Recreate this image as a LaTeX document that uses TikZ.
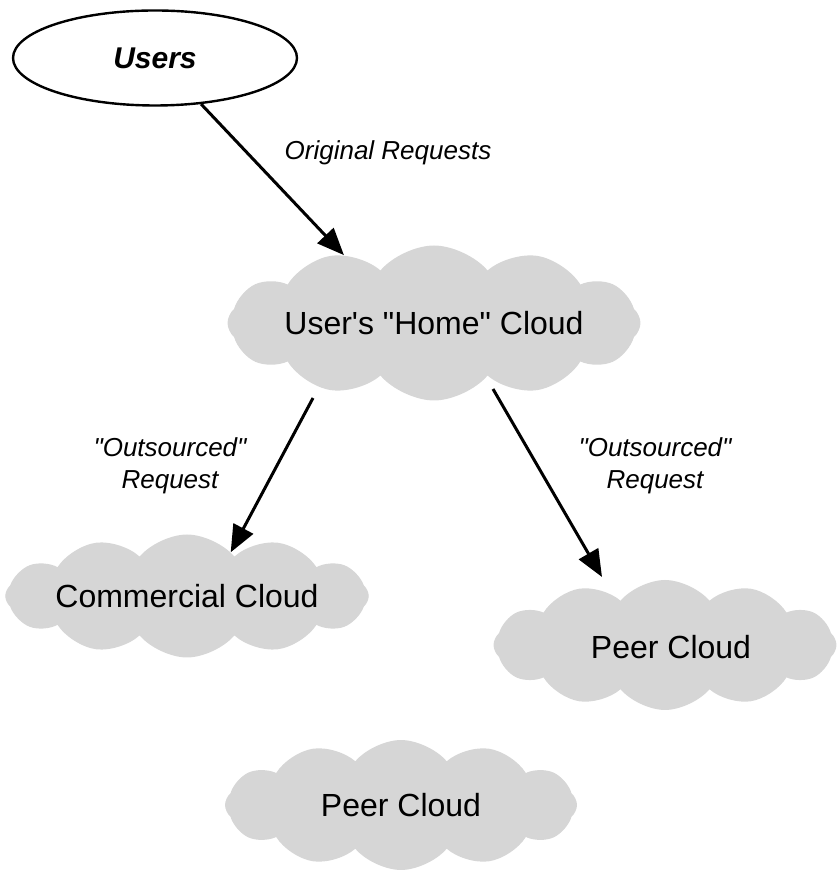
\documentclass[tikz,border=0pt]{standalone}
\usepackage{fontspec}
\setmainfont{Liberation Sans}
% plain family: keeps straight quotes and apostrophes
\newfontfamily\plainsans{Liberation Sans}
\usetikzlibrary{shapes.geometric,shapes.symbols,arrows.meta}
\definecolor{cloudgray}{RGB}{214,214,214}
\tikzset{
  puff/.style={cloud, cloud puffs=12, cloud puff arc=100, cloud ignores aspect,
    fill=cloudgray, draw=none, inner sep=0pt,
    font=\plainsans\fontsize{32}{38}\selectfont},
  usersnode/.style={ellipse, draw=black, line width=2.4pt, fill=white, inner sep=0pt,
    minimum width=284pt, minimum height=95pt,
    font=\plainsans\fontsize{30}{36}\selectfont\bfseries\itshape},
  link/.style={line width=3pt, -{Triangle[length=27pt, width=22pt]}},
  lbl/.style={font=\plainsans\fontsize{26}{32}\selectfont\itshape, align=center, inner sep=0pt}
}
\begin{document}
\begin{tikzpicture}[x=1pt, y=1pt]
  \useasboundingbox (0,0) rectangle (836,873);
  % origin node
  \node[usersnode] (users) at (155,815) {Users};
  % clouds
  \node[puff, minimum width=413pt, minimum height=155pt] (home) at (434,550) {User's "Home" Cloud};
  \node[puff, minimum width=352pt, minimum height=123pt] (comm) at (187,277) {Commercial Cloud};
  \node[puff, minimum width=343pt, minimum height=130pt] (peerA) at (665,228) {};
  \node[font=\plainsans\fontsize{32}{38}\selectfont] (peerAtext) at (671,226) {Peer Cloud};
  \node[puff, minimum width=352pt, minimum height=130pt] (peerB) at (401,68) {Peer Cloud};
  % where the outsourced requests leave the home cloud and reach the peer cloud
  \coordinate (homeoutL) at ([shift={(-121,-75)}]home.center);
  \coordinate (homeoutR) at ([shift={(59,-66)}]home.center);
  \coordinate (peerin) at ([shift={(-63,68)}]peerA.center);
  % requests
  \draw[link] (users.-45) -- (home.143);
  \draw[link] (homeoutL) -- (comm.45);
  \draw[link] (homeoutR) -- (peerin);
  % labels
  \node[lbl] (l0) at (388,720) {Original Requests};
  \node[lbl] (l1) at (170,407) {"Outsourced"\\Request};
  \node[lbl] (l2) at (655,407) {"Outsourced"\\Request};
\end{tikzpicture}
\end{document}
